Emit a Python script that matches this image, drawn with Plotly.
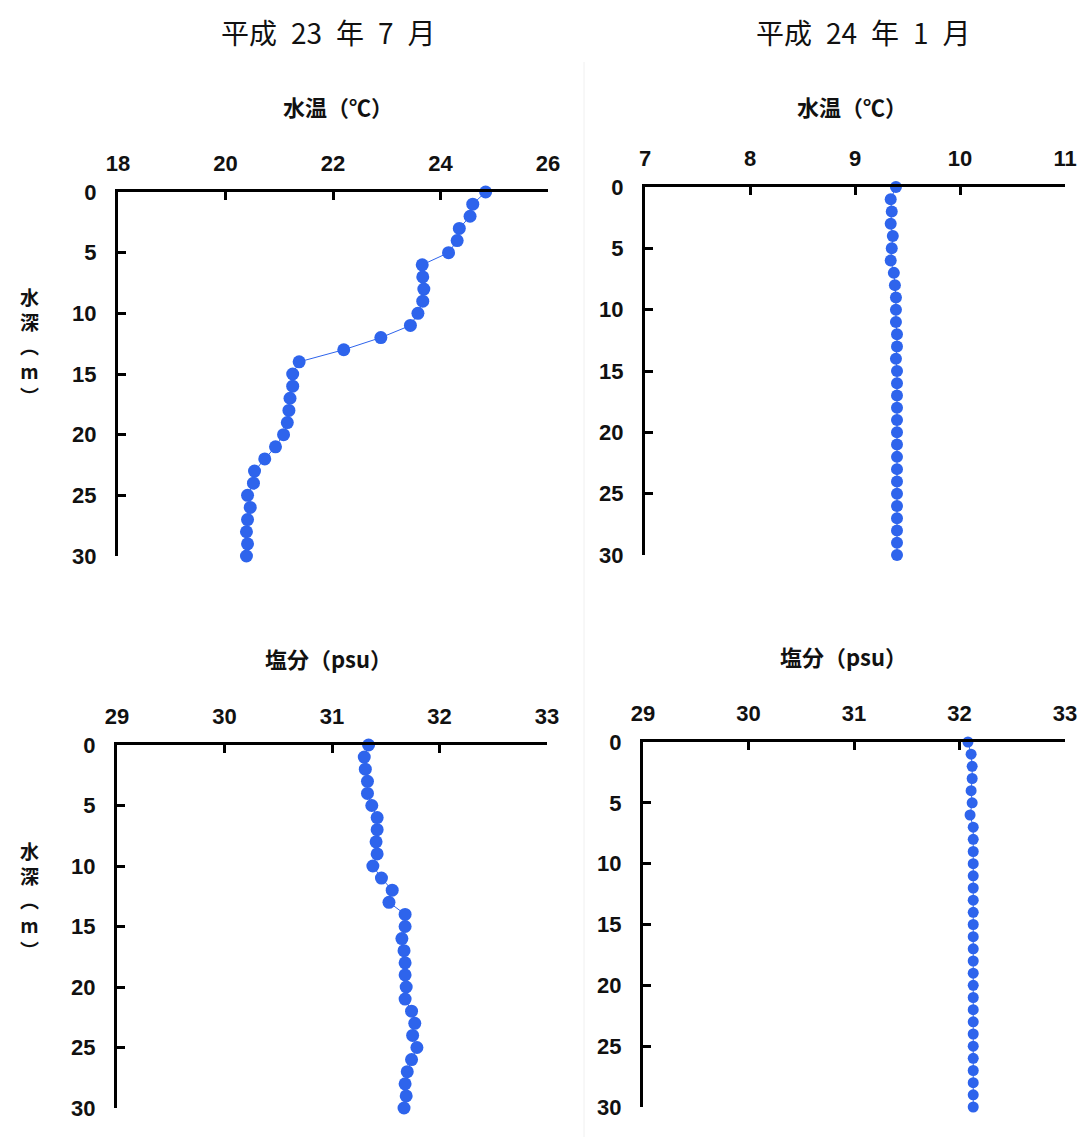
import plotly.graph_objects as go

depth = list(range(0, 31))

temp_jul = [24.84, 24.60, 24.55, 24.35, 24.31, 24.15, 23.66, 23.67, 23.69, 23.67,
            23.58, 23.44, 22.89, 22.20, 21.37, 21.25, 21.25, 21.20, 21.18, 21.15,
            21.08, 20.93, 20.73, 20.54, 20.52, 20.41, 20.46, 20.41, 20.39, 20.41, 20.39]

temp_jan = [9.39, 9.34, 9.35, 9.34, 9.36, 9.35, 9.34, 9.37, 9.38, 9.39,
            9.39, 9.39, 9.40, 9.40, 9.39, 9.40, 9.40, 9.40, 9.40, 9.40,
            9.40, 9.40, 9.40, 9.40, 9.40, 9.40, 9.40, 9.40, 9.40, 9.40, 9.40]

sal_jul = [31.34, 31.30, 31.31, 31.33, 31.33, 31.37, 31.42, 31.42, 31.41, 31.42,
           31.38, 31.46, 31.56, 31.53, 31.68, 31.68, 31.65, 31.67, 31.68, 31.68,
           31.69, 31.68, 31.74, 31.77, 31.75, 31.79, 31.74, 31.70, 31.68, 31.69, 31.67]

sal_jan = [32.08, 32.11, 32.12, 32.12, 32.11, 32.12, 32.10, 32.13, 32.13, 32.13,
           32.13, 32.13, 32.13, 32.13, 32.13, 32.13, 32.13, 32.13, 32.13, 32.13,
           32.13, 32.13, 32.13, 32.13, 32.13, 32.13, 32.13, 32.13, 32.13, 32.13, 32.13]

period_titles = ["平成\u200223\u2002年\u20027\u2002月", "平成\u200224\u2002年\u20021\u2002月"]
panel_titles = ["水温（℃）", "水温（℃）", "塩分（psu）", "塩分（psu）"]
x_ticks = [[18, 20, 22, 24, 26], [7, 8, 9, 10, 11], [29, 30, 31, 32, 33], [29, 30, 31, 32, 33]]
y_ticks = [0, 5, 10, 15, 20, 25, 30]
y_title = "水<br>深<br>︵<br>m<br>︶"

W, H = 1081, 1137
BLUE = "#2e64ec"
TICKFONT = dict(family="Liberation Sans, Arial, sans-serif",
                size=22, color="#111111", weight="bold")
CJK = "Noto Sans CJK JP"

# pixel boxes of the four plot areas: (left, right, top, bottom)
boxes = [(118, 548, 192, 556), (645, 1065, 187, 555),
         (117, 547, 745, 1108), (643, 1065, 742, 1107)]
series = [temp_jul, temp_jan, sal_jul, sal_jan]
msizes = [13, 12, 13, 11]

fig = go.Figure()
layout = dict(width=W, height=H, template="none",
              margin=dict(l=0, r=0, t=0, b=0, pad=0, autoexpand=False),
              paper_bgcolor="white", plot_bgcolor="white", showlegend=False)

for i, (box, vals) in enumerate(zip(boxes, series)):
    n = "" if i == 0 else str(i + 1)
    l, r, t, b = box
    fig.add_trace(go.Scatter(
        x=vals, y=depth, mode="lines+markers", xaxis="x" + n, yaxis="y" + n,
        line=dict(color=BLUE, width=1),
        marker=dict(color=BLUE, size=msizes[i], line=dict(width=0)), cliponaxis=False))
    xt = x_ticks[i]
    layout["xaxis" + n] = dict(
        domain=[l / W, r / W], anchor="y" + n, side="top", automargin=False,
        range=[xt[0], xt[-1]], tickvals=xt, ticktext=[str(v) for v in xt],
        showgrid=False, zeroline=False, showline=True, linecolor="black", linewidth=3,
        ticks="inside", ticklen=8, tickwidth=3, tickcolor="black",
        tickfont=TICKFONT, ticklabelstandoff=9, fixedrange=True)
    layout["yaxis" + n] = dict(
        domain=[1 - b / H, 1 - t / H], anchor="x" + n, automargin=False,
        range=[30, 0], tickvals=y_ticks, ticktext=[str(v) for v in y_ticks],
        showgrid=False, zeroline=False, showline=True, linecolor="black", linewidth=3,
        ticks="inside", ticklen=8, tickwidth=3, tickcolor="black",
        tickfont=TICKFONT, ticklabelstandoff=14, fixedrange=True)

fig.update_layout(**layout)

ann = []
for txt, cx in zip(period_titles, [328, 863]):
    ann.append(dict(text=txt, x=cx / W, y=1 - 32 / H, xref="paper", yref="paper",
                    showarrow=False, xanchor="center", yanchor="middle",
                    font=dict(family=CJK, size=28, color="#111111")))
for txt, (cx, cy) in zip(panel_titles, [(338, 106), (852, 106), (328, 658), (843, 656)]):
    ann.append(dict(text=txt, x=cx / W, y=1 - cy / H, xref="paper", yref="paper",
                    showarrow=False, xanchor="center", yanchor="middle",
                    font=dict(family=CJK, size=22, color="#111111", weight="bold")))
for cy in [346, 900]:
    ann.append(dict(text=y_title, x=30 / W, y=1 - cy / H, xref="paper", yref="paper",
                    showarrow=False, xanchor="center", yanchor="middle",
                    font=dict(family=CJK, size=19, color="#111111", weight="bold")))
fig.update_layout(annotations=ann)

# faint image border between the panels
fig.add_shape(type="line", xref="paper", yref="paper", x0=584 / W, x1=584 / W,
              y0=0, y1=1 - 62 / H, line=dict(color="#f0f0f0", width=1))

fig.write_html("out.html")
